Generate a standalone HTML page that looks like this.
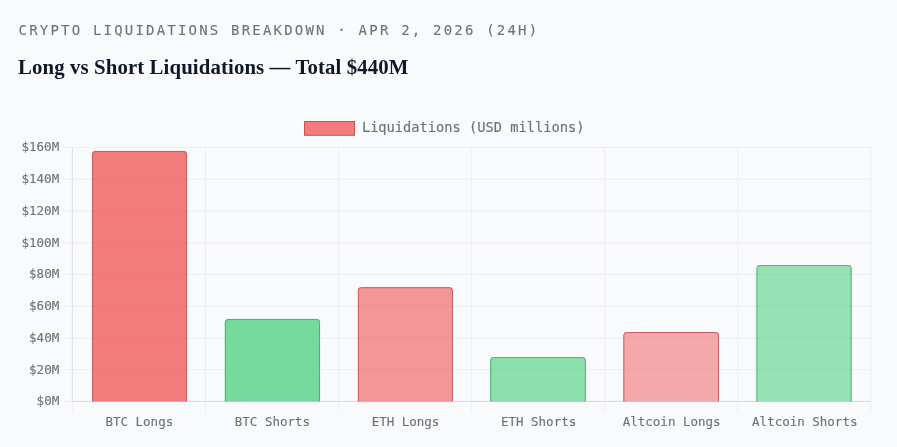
<!DOCTYPE html>
<html lang="en">
<head>
<meta charset="utf-8">
<title>Crypto Liquidations Breakdown</title>
<style>
html,body{margin:0;padding:0;background:#f8fafc;}
body{width:897px;height:447px;overflow:hidden;position:relative;}
svg{position:absolute;left:0;top:0;display:block;}
.mono{font-family:"DejaVu Sans Mono","Liberation Mono",monospace;}
.kicker{font-family:"DejaVu Sans Mono","Liberation Mono",monospace;font-size:14px;letter-spacing:2.2px;fill:#6e7177;stroke:#6e7177;stroke-width:0.1px;}
.title{font-family:"Liberation Serif",serif;font-weight:700;font-size:20.8px;letter-spacing:0.115px;fill:#0f172a;}
.tick{font-family:"DejaVu Sans Mono","Liberation Mono",monospace;font-size:12.5px;fill:#6e7177;stroke:#6e7177;stroke-width:0.12px;}
.legend{font-family:"DejaVu Sans Mono","Liberation Mono",monospace;font-size:13.7px;fill:#6e7177;stroke:#6e7177;stroke-width:0.15px;}
</style>
</head>
<body>
<svg width="897" height="447" viewBox="0 0 897 447">
<rect x="0" y="0" width="897" height="447" fill="#f8fafc"/>
<text class="kicker" x="18.5" y="35">CRYPTO LIQUIDATIONS BREAKDOWN · APR 2, 2026 (24H)</text>
<text class="title" x="18" y="74.1">Long vs Short Liquidations — Total $440M</text>

<rect x="304.5" y="121.5" width="50" height="13.8" fill="rgba(239,68,68,0.7)" stroke="#c85658" stroke-width="1"/>
<text class="legend" x="361.9" y="132.2">Liquidations (USD millions)</text>
<line x1="63.40" y1="401.45" x2="870.90" y2="401.45" stroke="#edeef1" stroke-width="1"/>
<line x1="63.40" y1="369.71" x2="870.90" y2="369.71" stroke="#edeef1" stroke-width="1"/>
<line x1="63.40" y1="337.96" x2="870.90" y2="337.96" stroke="#edeef1" stroke-width="1"/>
<line x1="63.40" y1="306.22" x2="870.90" y2="306.22" stroke="#edeef1" stroke-width="1"/>
<line x1="63.40" y1="274.48" x2="870.90" y2="274.48" stroke="#edeef1" stroke-width="1"/>
<line x1="63.40" y1="242.73" x2="870.90" y2="242.73" stroke="#edeef1" stroke-width="1"/>
<line x1="63.40" y1="210.99" x2="870.90" y2="210.99" stroke="#edeef1" stroke-width="1"/>
<line x1="63.40" y1="179.24" x2="870.90" y2="179.24" stroke="#edeef1" stroke-width="1"/>
<line x1="63.40" y1="147.50" x2="870.90" y2="147.50" stroke="#edeef1" stroke-width="1"/>
<line x1="72.40" y1="147.50" x2="72.40" y2="411.45" stroke="#edeef1" stroke-width="1"/>
<line x1="205.48" y1="147.50" x2="205.48" y2="411.45" stroke="#edeef1" stroke-width="1"/>
<line x1="338.57" y1="147.50" x2="338.57" y2="411.45" stroke="#edeef1" stroke-width="1"/>
<line x1="471.65" y1="147.50" x2="471.65" y2="411.45" stroke="#edeef1" stroke-width="1"/>
<line x1="604.73" y1="147.50" x2="604.73" y2="411.45" stroke="#edeef1" stroke-width="1"/>
<line x1="737.82" y1="147.50" x2="737.82" y2="411.45" stroke="#edeef1" stroke-width="1"/>
<line x1="870.90" y1="147.50" x2="870.90" y2="411.45" stroke="#edeef1" stroke-width="1"/>
<line x1="72.40" y1="147.50" x2="72.40" y2="401.45" stroke="#dfe1e5" stroke-width="1"/>
<line x1="72.40" y1="401.45" x2="870.90" y2="401.45" stroke="#d8dbdf" stroke-width="1"/>
<text class="tick" text-anchor="end" x="59.2" y="405.30">$0M</text>
<text class="tick" text-anchor="end" x="59.2" y="373.56">$20M</text>
<text class="tick" text-anchor="end" x="59.2" y="341.81">$40M</text>
<text class="tick" text-anchor="end" x="59.2" y="310.07">$60M</text>
<text class="tick" text-anchor="end" x="59.2" y="278.33">$80M</text>
<text class="tick" text-anchor="end" x="59.2" y="246.58">$100M</text>
<text class="tick" text-anchor="end" x="59.2" y="214.84">$120M</text>
<text class="tick" text-anchor="end" x="59.2" y="183.09">$140M</text>
<text class="tick" text-anchor="end" x="59.2" y="151.35">$160M</text>
<path d="M92.10,401.60 L92.10,154.30 Q92.10,151.00 95.40,151.00 L183.70,151.00 Q187.00,151.00 187.00,154.30 L187.00,401.60 Z" fill="rgba(239,68,68,0.7)"/>
<path d="M92.55,401.60 L92.55,154.30 Q92.55,151.45 95.40,151.45 L183.70,151.45 Q186.55,151.45 186.55,154.30 L186.55,401.60" fill="none" stroke="#c65457" stroke-width="0.9"/>
<path d="M224.90,401.60 L224.90,322.25 Q224.90,318.95 228.20,318.95 L316.70,318.95 Q320.00,318.95 320.00,322.25 L320.00,401.60 Z" fill="rgba(34,197,94,0.6)"/>
<path d="M225.35,401.60 L225.35,322.25 Q225.35,319.40 228.20,319.40 L316.70,319.40 Q319.55,319.40 319.55,322.25 L319.55,401.60" fill="none" stroke="#45ae6c" stroke-width="0.9"/>
<path d="M357.95,401.60 L357.95,290.50 Q357.95,287.20 361.25,287.20 L449.60,287.20 Q452.90,287.20 452.90,290.50 L452.90,401.60 Z" fill="rgba(239,68,68,0.55)"/>
<path d="M358.40,401.60 L358.40,290.50 Q358.40,287.65 361.25,287.65 L449.60,287.65 Q452.45,287.65 452.45,290.50 L452.45,401.60" fill="none" stroke="#c65457" stroke-width="0.9"/>
<path d="M490.30,401.60 L490.30,360.40 Q490.30,357.10 493.60,357.10 L582.50,357.10 Q585.80,357.10 585.80,360.40 L585.80,401.60 Z" fill="rgba(34,197,94,0.5)"/>
<path d="M490.75,401.60 L490.75,360.40 Q490.75,357.55 493.60,357.55 L582.50,357.55 Q585.35,357.55 585.35,360.40 L585.35,401.60" fill="none" stroke="#45ae6c" stroke-width="0.9"/>
<path d="M623.40,401.60 L623.40,335.40 Q623.40,332.10 626.70,332.10 L715.70,332.10 Q719.00,332.10 719.00,335.40 L719.00,401.60 Z" fill="rgba(239,68,68,0.45)"/>
<path d="M623.85,401.60 L623.85,335.40 Q623.85,332.55 626.70,332.55 L715.70,332.55 Q718.55,332.55 718.55,335.40 L718.55,401.60" fill="none" stroke="#c65457" stroke-width="0.9"/>
<path d="M756.50,401.60 L756.50,268.40 Q756.50,265.10 759.80,265.10 L848.30,265.10 Q851.60,265.10 851.60,268.40 L851.60,401.60 Z" fill="rgba(34,197,94,0.45)"/>
<path d="M756.95,401.60 L756.95,268.40 Q756.95,265.55 759.80,265.55 L848.30,265.55 Q851.15,265.55 851.15,268.40 L851.15,401.60" fill="none" stroke="#45ae6c" stroke-width="0.9"/>
<text class="tick" text-anchor="middle" x="139.34" y="426.1">BTC Longs</text>
<text class="tick" text-anchor="middle" x="272.42" y="426.1">BTC Shorts</text>
<text class="tick" text-anchor="middle" x="405.51" y="426.1">ETH Longs</text>
<text class="tick" text-anchor="middle" x="538.59" y="426.1">ETH Shorts</text>
<text class="tick" text-anchor="middle" x="671.67" y="426.1">Altcoin Longs</text>
<text class="tick" text-anchor="middle" x="804.76" y="426.1">Altcoin Shorts</text>
</svg>
</body>
</html>
